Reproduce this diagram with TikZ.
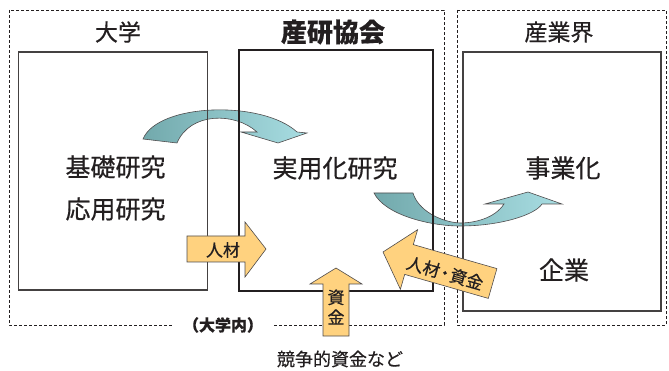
\documentclass[tikz,border=0pt]{standalone}
\usepackage{fontspec}
\setmainfont{Noto Sans CJK JP}[FakeBold=0.5]
\definecolor{arrowfill}{HTML}{FFD27F}
\definecolor{tealdark}{HTML}{72A9AC}
\definecolor{teallight}{HTML}{A8DDE2}
\definecolor{ink}{HTML}{231F20}
\tikzset{
  dashbox/.style={draw=ink, line width=0.8pt, dash pattern=on 3pt off 2pt},
  sidebox/.style={draw=ink!85, line width=1.3pt, inner sep=0pt},
  mainbox/.style={draw=ink, line width=2.4pt, inner sep=0pt},
  curvearrow/.style={draw=ink!80, line width=0.6pt, left color=tealdark, right color=teallight},
  fatarrow/.style={draw=ink!80, line width=0.6pt, fill=arrowfill},
  lbl/.style={text=ink, inner sep=0pt},
}
\begin{document}
\begin{tikzpicture}[x=1pt,y=-1pt]
\useasboundingbox (0,0) rectangle (669,371);
% dashed frames
\draw[dashbox] (9,10) rectangle (444,325);
\draw[dashbox] (457,10) rectangle (666,325);
% curved arrows (behind box lines)
\path[curvearrow] (143,139) .. controls (158,103) and (262,100) .. (297,132)
  -- (307,133) -- (278,143) -- (241,132) -- (257,132)
  .. controls (235,112) and (190,112) .. (177,143) -- cycle;
\path[curvearrow] (374,193) .. controls (385,215) and (430,226) .. (460,226)
  .. controls (500,226) and (535,215) .. (542,204)
  -- (562,204) -- (528,192) -- (485,204) -- (504,204)
  .. controls (495,218) and (475,223) .. (460,223)
  .. controls (440,222) and (418,210) .. (413,193) -- cycle;
% boxes
\node[sidebox, minimum width=189pt, minimum height=238pt] (univ) at (113,171) {};
\node[mainbox, minimum width=194pt, minimum height=241pt] (sanken) at (336,170.5) {};
\node[sidebox, minimum width=198pt, minimum height=259pt] (ind) at (562,181.5) {};
% titles
\node[lbl, font=\fontsize{23}{26}\selectfont] (t1) at (118,32) {大学};
\node[lbl, font=\bfseries\fontsize{26}{30}\selectfont] (t2) at (333,32) {産研協会};
\node[lbl, font=\fontsize{23}{26}\selectfont] (t3) at (559,32) {産業界};
% contents
\node[lbl, font=\fontsize{25}{30}\selectfont] (basic) at (115.5,167) {基礎研究};
\node[lbl, font=\fontsize{25}{30}\selectfont] (applied) at (115.5,209) {応用研究};
\node[lbl, font=\fontsize{25}{30}\selectfont] (practical) at (335,168) {実用化研究};
\node[lbl, font=\fontsize{25}{30}\selectfont] (biz) at (563,168) {事業化};
\node[lbl, font=\fontsize{25}{30}\selectfont] (corp) at (564,270) {企業};
% orange arrows
\path[fatarrow] (187,236) -- (245,236) -- (245,222) -- (266,249) -- (245,277) -- (245,262) -- (187,262) -- cycle;
\node[lbl, font=\fontsize{17}{20}\selectfont] (jinzai) at (223,250) {人材};
\path[fatarrow] (323,336) -- (323,284) -- (310,284) -- (336,268) -- (362,284) -- (349,284) -- (349,336) -- cycle;
\node[lbl, font=\fontsize{17}{20}\selectfont, align=center] (shikin) at (336,307) {資\\金};
\path[fatarrow] (383,252) -- (417.6,229.7) -- (413.3,244.6) -- (496.9,268.6) -- (488.3,298.4) -- (404.7,274.4) -- (400.4,289.3) -- cycle;
\node[lbl, font=\fontsize{17}{20}\selectfont, rotate=-16] (js) at (445,273) {人材\kern-3pt・\kern-3pt資金};
% bottom labels
\node[lbl, fill=white, inner xsep=11pt, inner ysep=2pt, font=\bfseries\fontsize{16}{20}\selectfont] (inuniv) at (223,325) {（大学内）};
\node[lbl, font=\fontsize{18}{22}\selectfont] (comp) at (340,359) {競争的資金など};
\end{tikzpicture}
\end{document}
